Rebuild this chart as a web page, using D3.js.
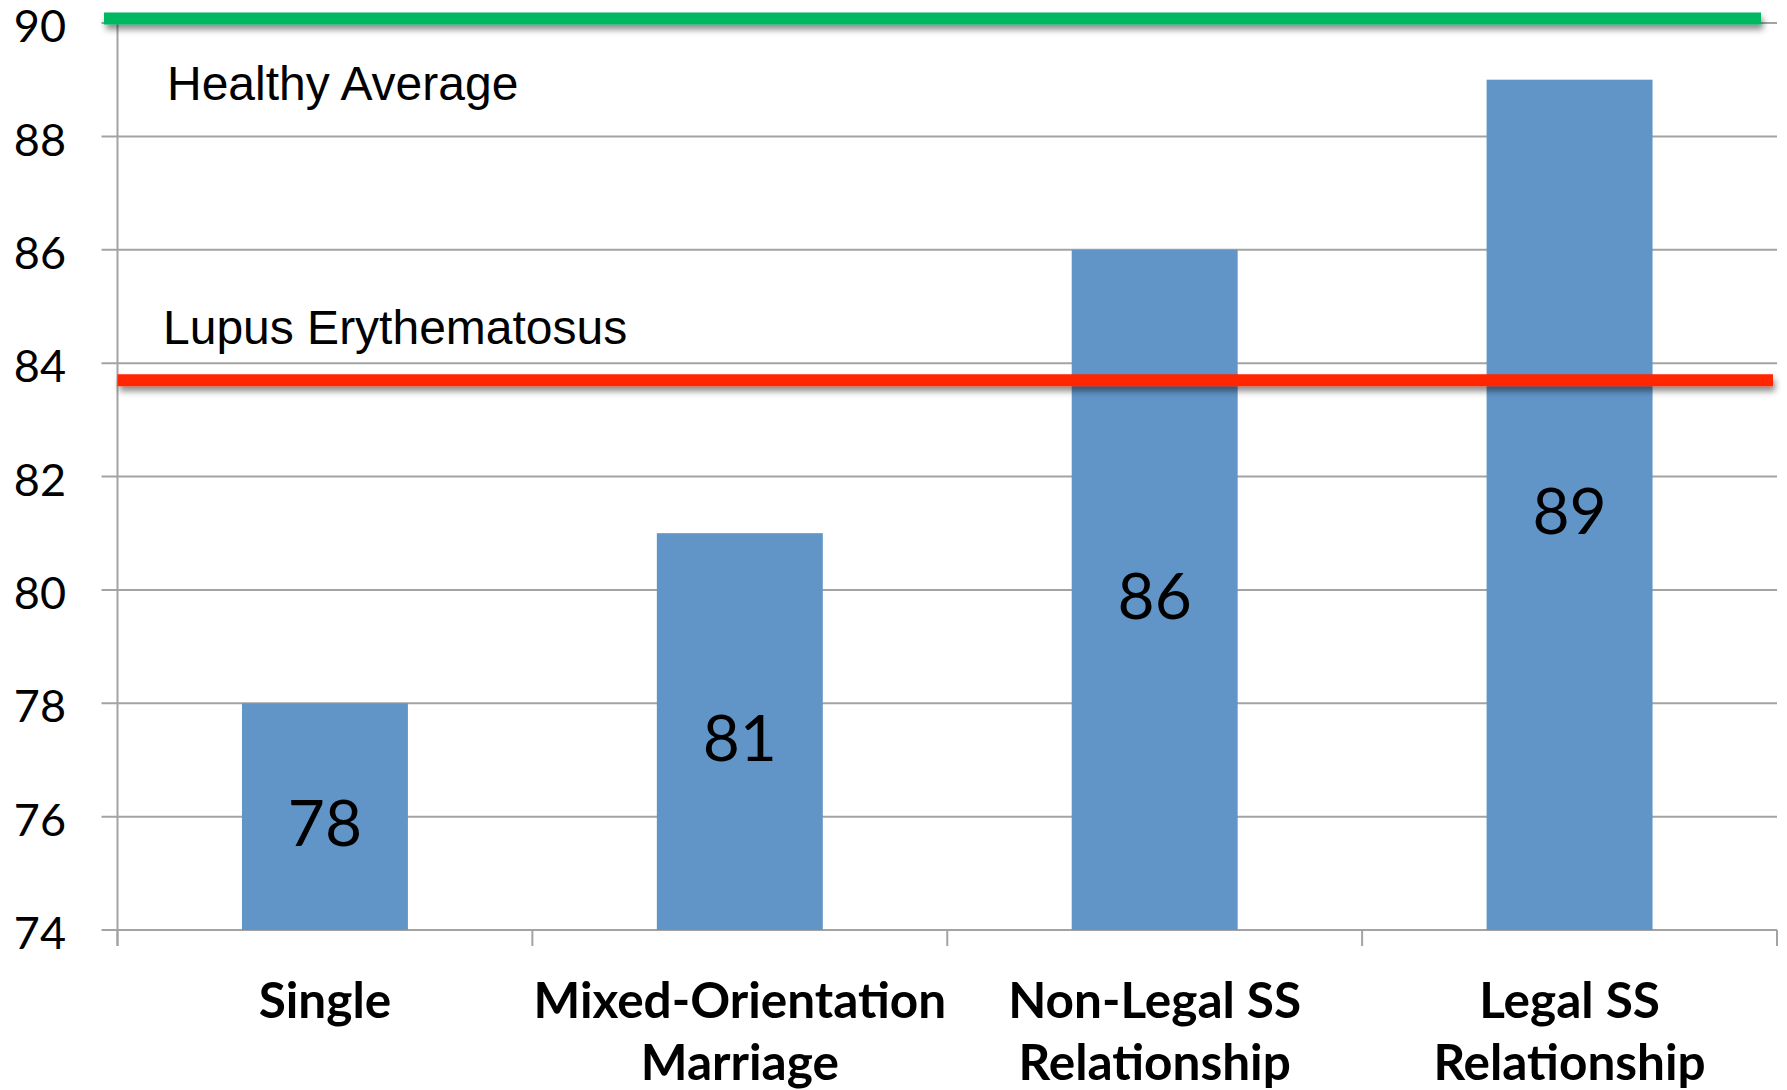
<!DOCTYPE html>
<html>
<head>
<meta charset="utf-8">
<script src="https://cdn.jsdelivr.net/npm/d3@7"></script>
<style>
  body { margin: 0; background: #fff; }
</style>
</head>
<body>
<script>
// data
var categories = [['Single'], ['Mixed-Orientation', 'Marriage'], ['Non-Legal SS', 'Relationship'], ['Legal SS', 'Relationship']];
var values = [78, 81, 86, 89];
var yTicks = [74, 76, 78, 80, 82, 84, 86, 88, 90];
var refNames = ['Healthy Average', 'Lupus Erythematosus'];
var refValues = [90.08, 83.7];
var refColors = ['#00b862', '#ff2500'];

function drawChart() {
    var width = 1787, height = 1090;

    var svg = d3.select('body').append('svg')
        .attr('width', width)
        .attr('height', height);

    // shadow for the two reference lines (user space, a flat line has no bbox height)
    var defs = svg.append('defs');
    defs.append('filter').attr('id', 'shadow')
        .attr('filterUnits', 'userSpaceOnUse')
        .attr('x', 0).attr('y', 0).attr('width', width).attr('height', height)
        .append('feDropShadow')
        .attr('dx', 2).attr('dy', 5)
        .attr('stdDeviation', 3)
        .attr('flood-color', '#000')
        .attr('flood-opacity', 0.45);

    var plotLeft = 117.5, plotRight = 1777, plotTop = 23, plotBottom = 930;

    var x = d3.scaleBand()
        .domain(d3.range(categories.length))
        .range([plotLeft, plotRight])
        .paddingInner(0.6)
        .paddingOuter(0.3);

    var y = d3.scaleLinear()
        .domain([74, 90])
        .range([plotBottom, plotTop]);

    // grid lines
    svg.append('g').selectAll('line').data(yTicks)
        .enter().append('line')
        .attr('x1', plotLeft - 16)
        .attr('x2', plotRight)
        .attr('y1', function(d) { return y(d); })
        .attr('y2', function(d) { return y(d); })
        .attr('stroke', '#a3a3a3')
        .attr('stroke-width', 2);

    // y axis labels
    svg.append('g').selectAll('text').data(yTicks)
        .enter().append('text')
        .attr('x', 66)
        .attr('y', function(d) { return y(d) + 3; })
        .attr('dy', '0.36em')
        .attr('text-anchor', 'end')
        .attr('font-family', 'Lato, sans-serif')
        .attr('font-size', 45)
        .attr('fill', '#000')
        .text(function(d) { return d; });

    // y axis line
    svg.append('line')
        .attr('x1', plotLeft).attr('x2', plotLeft)
        .attr('y1', y(90)).attr('y2', plotBottom + 16)
        .attr('stroke', '#a3a3a3')
        .attr('stroke-width', 2);

    // category tick marks
    var step = x.step();
    svg.append('g').selectAll('line').data(d3.range(categories.length + 1))
        .enter().append('line')
        .attr('x1', function(i) { return plotLeft + i * step; })
        .attr('x2', function(i) { return plotLeft + i * step; })
        .attr('y1', plotBottom)
        .attr('y2', plotBottom + 16)
        .attr('stroke', '#a3a3a3')
        .attr('stroke-width', 2);

    // bars
    svg.append('g').selectAll('rect').data(values)
        .enter().append('rect')
        .attr('x', function(d, i) { return x(i); })
        .attr('y', function(d) { return y(d); })
        .attr('width', x.bandwidth())
        .attr('height', function(d) { return plotBottom - y(d); })
        .attr('fill', '#6195c8');

    // reference lines with labels
    var refX1 = [104, plotLeft];
    var refX2 = [1761, 1773];
    svg.append('g').selectAll('line').data(refValues)
        .enter().append('line')
        .attr('x1', function(d, i) { return refX1[i]; })
        .attr('x2', function(d, i) { return refX2[i]; })
        .attr('y1', function(d) { return y(d); })
        .attr('y2', function(d) { return y(d); })
        .attr('stroke', function(d, i) { return refColors[i]; })
        .attr('stroke-width', 12)
        .attr('filter', 'url(#shadow)');

    var refLabelX = [167, 163];
    var refLabelY = [100, 344];
    svg.append('g').selectAll('text').data(refNames)
        .enter().append('text')
        .attr('x', function(d, i) { return refLabelX[i]; })
        .attr('y', function(d, i) { return refLabelY[i]; })
        .attr('font-family', 'Liberation Sans, Arial, sans-serif')
        .attr('font-size', 48)
        .attr('fill', '#000')
        .text(function(d) { return d; });

    // value labels inside the bars
    svg.append('g').selectAll('text').data(values)
        .enter().append('text')
        .attr('x', function(d, i) { return x(i) + x.bandwidth() / 2; })
        .attr('y', function(d) { return (y(d) + plotBottom) / 2 + 6; })
        .attr('dy', '0.36em')
        .attr('text-anchor', 'middle')
        .attr('font-family', 'Lato, sans-serif')
        .attr('font-size', 64)
        .attr('fill', '#000')
        .text(function(d) { return d; });

    // category labels, two lines each
    var catLabels = svg.append('g').selectAll('text').data(categories)
        .enter().append('text')
        .attr('text-anchor', 'middle')
        .attr('font-family', 'Lato, sans-serif')
        .attr('font-weight', 'bold')
        .attr('font-size', 49.5)
        .attr('fill', '#000');

    catLabels.selectAll('tspan').data(function(d, i) { return d.map(function(t) { return { t: t, i: i }; }); })
        .enter().append('tspan')
        .attr('x', function(d) { return x(d.i) + x.bandwidth() / 2; })
        .attr('y', function(d, j) { return 1018 + j * 62; })
        .text(function(d) { return d.t; });
}

drawChart();
</script>
</body>
</html>
